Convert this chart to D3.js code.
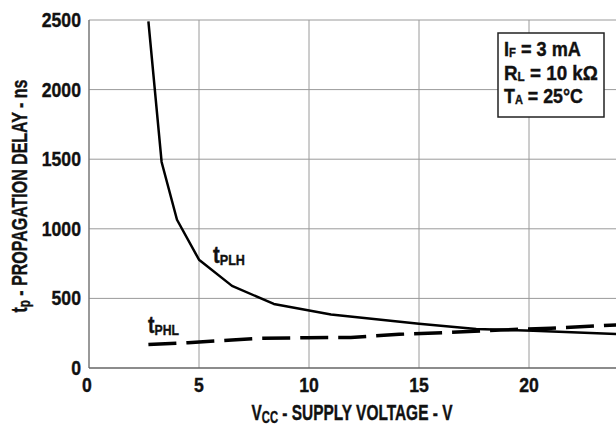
<!DOCTYPE html>
<html lang="en">
<head>
    <meta charset="UTF-8">
    <title>Propagation delay vs supply voltage</title>
    <script src="https://d3js.org/d3.v7.min.js"></script>
    <style>
        body { margin: 0; background: #fff; }
        svg text {
            font-family: "Liberation Sans", Arial, sans-serif;
            font-weight: bold;
            fill: #111;
            stroke: #111;
            stroke-width: 0.4px;
        }
    </style>
</head>
<body>
    <svg id="chart" width="616" height="428"></svg>
    <script>
        // values
        const vcc_plh = [2.7, 3.3, 4.0, 5.0, 6.5, 8.4, 11.0, 15.0, 17.6, 20.2, 24.0];
        const tplh = [2490, 1480, 1065, 778, 590, 460, 385, 318, 280, 268, 244];
        const vcc_phl = [2.7, 4.5, 6.5, 7.8, 9.9, 11.9, 14.1, 16.4, 18.7, 21.0, 24.0];
        const tphl = [168, 182, 201, 213, 218, 220, 242, 256, 273, 286, 310];
        const xTicks = [0, 5, 10, 15, 20];
        const yTicks = [0, 500, 1000, 1500, 2000, 2500];
        const legendLines = [["I", "F", " = 3 mA"], ["R", "L", " = 10 k\u03A9"], ["T", "A", " = 25\u00B0C"]];

        const svg = d3.select("#chart");
        const plotLeft = 89, plotTop = 20, plotBottom = 368;
        const squeeze = 0.84;   // condensed look

        const x = d3.scaleLinear().domain([0, 24]).range([plotLeft, plotLeft + 528]);
        const y = d3.scaleLinear().domain([0, 2500]).range([plotBottom, plotTop]);

        // text with horizontal squeeze; parts = [[text, size, dy]]
        function label(px, py, parts, opts) {
            opts = opts || {};
            const g = svg.append("g");
            const t = g.append("text").attr("x", 0).attr("y", 0);
            parts.forEach(p => {
                t.append("tspan").attr("font-size", p[1]).attr("dy", p[2] || 0).text(p[0]);
            });
            const w = t.node().getComputedTextLength();
            const sx = opts.width ? opts.width / w : squeeze;
            let anchorShift = 0;
            if (opts.anchor === "end") anchorShift = -w;
            if (opts.anchor === "middle") anchorShift = -w / 2;
            t.attr("x", anchorShift);
            g.attr("transform", `translate(${px},${py}) rotate(${opts.rotate || 0}) scale(${sx},1)`);
            return g;
        }

        // grid
        const grid = svg.append("g");
        grid.selectAll(".vg").data(xTicks.slice(1)).enter().append("line")
            .attr("x1", d => x(d)).attr("x2", d => x(d))
            .attr("y1", plotTop).attr("y2", plotBottom)
            .attr("stroke", "#9a9a9a").attr("stroke-width", 1);
        grid.selectAll(".hg").data(yTicks.slice(1)).enter().append("line")
            .attr("x1", plotLeft).attr("x2", 616)
            .attr("y1", d => y(d)).attr("y2", d => y(d))
            .attr("stroke", "#9a9a9a").attr("stroke-width", 1);

        // frame
        svg.append("line").attr("x1", plotLeft).attr("x2", plotLeft).attr("y1", plotTop).attr("y2", plotBottom)
            .attr("stroke", "#777").attr("stroke-width", 1.5);
        svg.append("line").attr("x1", plotLeft).attr("x2", 616).attr("y1", plotBottom).attr("y2", plotBottom)
            .attr("stroke", "#666").attr("stroke-width", 1.5);

        // tick labels
        yTicks.forEach(d => label(81, y(d) + 7, [[d, 21]], { anchor: "end" }));
        xTicks.forEach(d => label(x(d) - (d === 0 ? 2 : 0), 392, [[d, 21]], { anchor: "middle" }));

        // curves
        const line = d3.line().x(d => x(d[0])).y(d => y(d[1]));
        svg.append("path")
            .attr("d", line(d3.zip(vcc_plh, tplh)))
            .attr("fill", "none").attr("stroke", "#000").attr("stroke-width", 2.5)
            .attr("stroke-linejoin", "round");
        svg.append("path")
            .attr("d", line(d3.zip(vcc_phl, tphl)))
            .attr("fill", "none").attr("stroke", "#000").attr("stroke-width", 3.5)
            .attr("stroke-dasharray", "28,10");

        // curve labels
        label(213, 263, [["t", 24], ["PLH", 15, 2]], { width: 32 });
        label(148, 333, [["t", 24], ["PHL", 15, 2]], { width: 31 });

        // axis titles
        label(352, 420, [["V", 22], ["CC", 16, 3], [" - SUPPLY VOLTAGE - V", 22, -3]],
            { anchor: "middle", width: 201 });
        label(27, 196, [["t", 22], ["p", 16, 3], [" - PROPAGATION DELAY - ns", 22, -3]],
            { anchor: "middle", width: 233, rotate: -90 });

        // conditions box
        svg.append("rect").attr("x", 498).attr("y", 33).attr("width", 106).attr("height", 84)
            .attr("fill", "#fff").attr("stroke", "#222").attr("stroke-width", 1.5);
        const legendWidths = [77, 94, 79];
        legendLines.forEach((l, i) => {
            label(504, 56 + i * 23.5, [[l[0], 21], [l[1], 13, 1], [l[2], 21, -1]], { width: legendWidths[i] });
        });
    </script>
</body>
</html>
